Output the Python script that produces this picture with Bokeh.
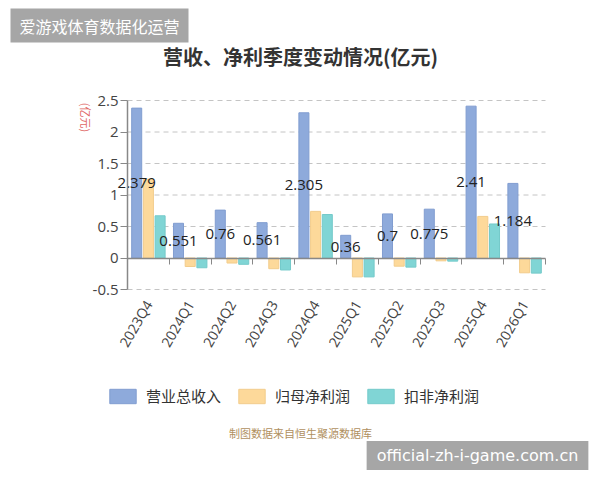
import math
from bokeh.plotting import figure
from bokeh.models import (ColumnDataSource, Label, Legend, LegendItem,
                          FixedTicker, Range1d, LinearAxis)
from bokeh.core.properties import value
from bokeh.embed import file_html
from bokeh.resources import INLINE

quarters = ["2023Q4", "2024Q1", "2024Q2", "2024Q3", "2024Q4",
            "2025Q1", "2025Q2", "2025Q3", "2025Q4", "2026Q1"]
revenue = [2.379, 0.551, 0.76, 0.561, 2.305, 0.36, 0.7, 0.775, 2.41, 1.184]
net_profit = [1.25, -0.135, -0.08, -0.17, 0.74, -0.30, -0.13, -0.045, 0.66, -0.235]
deducted_profit = [0.67, -0.155, -0.10, -0.19, 0.69, -0.30, -0.145, -0.05, 0.54, -0.24]
revenue_labels = ["2.379", "0.551", "0.76", "0.561", "2.305", "0.36", "0.7", "0.775", "2.41", "1.184"]
series_names = ["营业总收入", "归母净利润", "扣非净利润"]
y_ticks = [-0.5, 0, 0.5, 1, 1.5, 2, 2.5]
y_min, y_max = -0.5, 2.5

colors = ["#8eaadb", "#fdd99a", "#80d5d5"]
edge = ["#819dd0", "#f2cc8c", "#74caca"]
CJK = "Noto Sans CJK SC"
NUM = "Open Sans"

W, H = 600, 480
n = len(quarters)
centers = [i + 0.5 for i in range(n)]

# pixel layout of the plotting area inside the canvas
ax_left, ax_right = 127, 545
ax_top, ax_bottom = 100, 289
ux = (ax_right - ax_left) / n
uy = (ax_bottom - ax_top) / (y_max - y_min)
x_range = Range1d(-ax_left / ux, n + (W - ax_right) / ux)
y_range = Range1d(y_min - (H - ax_bottom) / uy, y_max + ax_top / uy)

p = figure(width=W, height=H, output_backend="svg", toolbar_location=None,
           x_range=x_range, y_range=y_range,
           min_border=0, min_border_left=0, min_border_right=0,
           min_border_top=0, min_border_bottom=0)
p.outline_line_color = None
p.background_fill_color = "white"
p.border_fill_color = "white"
p.xgrid.visible = False
p.ygrid.visible = False

# dashed grid lines between the axes
gy = [t for t in y_ticks if t != 0]
p.segment(x0=[0] * len(gy), x1=[n] * len(gy), y0=gy, y1=gy,
          line_color="#c4c4c4", line_width=1, line_dash="5 4")

off = 0.28
w = 0.24
renderers = []
for k, vals in enumerate([revenue, net_profit, deducted_profit]):
    src = ColumnDataSource(dict(x=[c + (k - 1) * off for c in centers], top=vals))
    r = p.vbar(x="x", top="top", bottom=0, width=w, source=src,
               fill_color=colors[k], line_color=edge[k], line_width=1)
    renderers.append(r)

# value labels at half height of revenue bars
lsrc = ColumnDataSource(dict(x=[c - off for c in centers],
                             y=[v / 2 for v in revenue], t=revenue_labels))
p.text(x="x", y="y", text="t", source=lsrc, text_align="center",
       text_baseline="middle", text_font=value(NUM), text_font_size="15px",
       text_color="#222222")

# y axis at x = 0
yax = p.yaxis[0]
yax.fixed_location = 0
yax.bounds = (y_min, y_max)
yax.ticker = FixedTicker(ticks=y_ticks)
yax.axis_line_color = "#888888"
yax.axis_line_width = 1.5
yax.major_tick_line_color = "#888888"
yax.major_tick_out = 7
yax.major_tick_in = 0
yax.minor_tick_line_color = None
yax.major_label_text_font = NUM
yax.major_label_text_font_size = "15px"
yax.major_label_text_color = "#444444"
yax.major_label_standoff = 2
yax.major_label_overrides = {-0.5: "-0.5", 0: "0", 0.5: "0.5", 1: "1",
                             1.5: "1.5", 2: "2", 2.5: "2.5"}

# category labels below the plotting area
xax = p.xaxis[0]
xax.fixed_location = y_min
xax.ticker = FixedTicker(ticks=centers)
xax.major_label_overrides = {c: q for c, q in zip(centers, quarters)}
xax.axis_line_color = None
xax.major_tick_line_color = None
xax.minor_tick_line_color = None
xax.major_label_orientation = math.pi / 3
xax.major_label_text_font = NUM
xax.major_label_text_font_size = "14px"
xax.major_label_text_color = "#444444"
xax.major_label_standoff = 6

# zero line with category boundary ticks
zax = LinearAxis(fixed_location=0, bounds=(0, n),
                 ticker=FixedTicker(ticks=list(range(n + 1))))
zax.axis_line_color = "#888888"
zax.axis_line_width = 1.5
zax.major_tick_line_color = "#888888"
zax.major_tick_out = 6
zax.major_tick_in = 0
zax.minor_tick_line_color = None
zax.major_label_text_font_size = "0px"
zax.major_label_text_alpha = 0
p.add_layout(zax, "below")

# legend
legend = Legend(items=[LegendItem(label=series_names[k], renderers=[renderers[k]])
                       for k in range(3)],
                orientation="horizontal", location=(106, H - 406),
                glyph_width=33, glyph_height=18, label_height=18,
                label_standoff=7, spacing=14, padding=0, margin=0,
                border_line_color=None, background_fill_alpha=0,
                label_text_font=CJK, label_text_font_size="15px",
                label_text_color="#333333")
p.add_layout(legend, "center")

# y unit label
p.add_layout(Label(x=85, y=H - 117, x_units="screen", y_units="screen",
                   text="(亿元)", angle=-math.pi / 2, text_align="center",
                   text_baseline="middle", text_font=CJK, text_font_size="11px",
                   text_color="#e06666"))

# title
p.add_layout(Label(x=300, y=H - 56, x_units="screen", y_units="screen",
                   text="营收、净利季度变动情况(亿元)", text_align="center",
                   text_baseline="middle", text_font=CJK, text_font_size="20px",
                   text_font_style="bold", text_color="#333333"))

# top-left badge
p.add_layout(Label(x=99, y=H - 25, x_units="screen", y_units="screen",
                   text="爱游戏体育数据化运营", text_align="center",
                   text_baseline="middle", text_font=CJK, text_font_size="16px",
                   text_color="white", background_fill_color="#a6a6a6",
                   padding=(9, 5)))

# source
p.add_layout(Label(x=300, y=H - 432, x_units="screen", y_units="screen",
                   text="制图数据来自恒生聚源数据库", text_align="center",
                   text_baseline="middle", text_font=CJK, text_font_size="11px",
                   text_color="#b09060"))

# bottom-right badge
p.add_layout(Label(x=477, y=H - 455, x_units="screen", y_units="screen",
                   text="official-zh-i-game.com.cn", text_align="center",
                   text_baseline="middle", text_font="DejaVu Sans",
                   text_font_size="16px",
                   text_color="white", background_fill_color="#a6a6a6",
                   padding=(10, 5)))

open("out.html", "w").write(file_html(p, INLINE))
